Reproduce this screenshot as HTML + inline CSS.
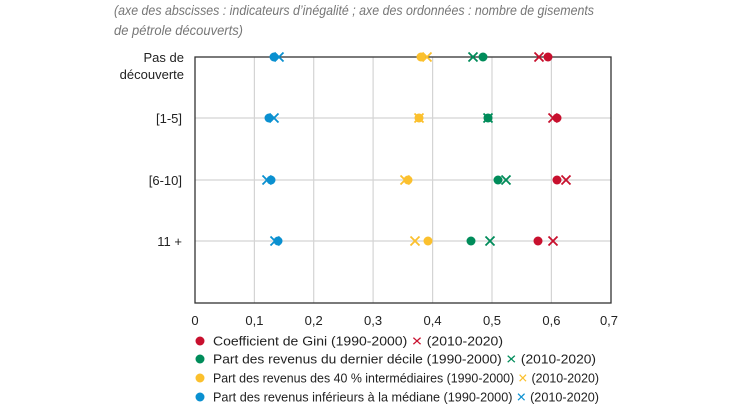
<!DOCTYPE html>
<html><head><meta charset="utf-8"><style>
html,body{margin:0;padding:0;background:#fff;}
svg{display:block;font-family:"Liberation Sans",sans-serif;}
</style></head><body>
<svg width="730" height="410" viewBox="0 0 730 410" xmlns="http://www.w3.org/2000/svg">
<defs>
<g id="xr"><path d="M-4.5,-4.5L4.5,4.5M-4.5,4.5L4.5,-4.5" stroke="#c8102e" stroke-width="1.8" fill="none"/></g>
<g id="xg"><path d="M-4.5,-4.5L4.5,4.5M-4.5,4.5L4.5,-4.5" stroke="#008c5a" stroke-width="1.8" fill="none"/></g>
<g id="xy"><path d="M-4.5,-4.5L4.5,4.5M-4.5,4.5L4.5,-4.5" stroke="#fbc02d" stroke-width="1.8" fill="none"/></g>
<g id="xb"><path d="M-4.5,-4.5L4.5,4.5M-4.5,4.5L4.5,-4.5" stroke="#0a90d0" stroke-width="1.8" fill="none"/></g>
</defs>
<g font-style="italic" fill="#777" font-size="14">
<text x="114" y="15" textLength="480" lengthAdjust="spacingAndGlyphs">(axe des abscisses : indicateurs d’inégalité ; axe des ordonnées : nombre de gisements</text>
<text x="114" y="35" textLength="129" lengthAdjust="spacingAndGlyphs">de pétrole découverts)</text>
</g>
<g stroke="#d4d4d4" stroke-width="1.2">
<line x1="254.4" y1="57" x2="254.4" y2="303"/><line x1="313.7" y1="57" x2="313.7" y2="303"/>
<line x1="373.1" y1="57" x2="373.1" y2="303"/><line x1="432.6" y1="57" x2="432.6" y2="303"/>
<line x1="492" y1="57" x2="492" y2="303"/><line x1="551.4" y1="57" x2="551.4" y2="303"/>
<line x1="195" y1="118" x2="611" y2="118"/><line x1="195" y1="180" x2="611" y2="180"/>
<line x1="195" y1="241" x2="611" y2="241"/>
</g>
<rect x="195" y="57" width="416" height="246" fill="none" stroke="#333" stroke-width="1.3"/>
<g font-size="13" fill="#222" text-anchor="end">
<text x="184" y="62">Pas de</text><text x="184" y="79">découverte</text>
<text x="182" y="123">[1-5]</text><text x="182" y="185">[6-10]</text><text x="182" y="246">11 +</text>
</g>
<g font-size="13" fill="#222" text-anchor="middle">
<text x="195" y="325">0</text><text x="254.4" y="325">0,1</text><text x="313.7" y="325">0,2</text>
<text x="373.1" y="325">0,3</text><text x="432.6" y="325">0,4</text><text x="492" y="325">0,5</text>
<text x="551.4" y="325">0,6</text><text x="609" y="325">0,7</text>
</g>
<circle cx="274" cy="57" r="4.5" fill="#0a90d0"/><use href="#xb" x="279" y="57"/>
<circle cx="421" cy="57" r="4.5" fill="#fbc02d"/><use href="#xy" x="427" y="57"/>
<use href="#xg" x="473" y="57"/><circle cx="483" cy="57" r="4.5" fill="#008c5a"/>
<use href="#xr" x="539" y="57"/><circle cx="548" cy="57" r="4.5" fill="#c8102e"/>
<circle cx="269" cy="118" r="4.5" fill="#0a90d0"/><use href="#xb" x="274" y="118"/>
<circle cx="419" cy="118" r="4.5" fill="#fbc02d"/><use href="#xy" x="419" y="118"/>
<circle cx="488" cy="118" r="4.5" fill="#008c5a"/><use href="#xg" x="488" y="118"/>
<use href="#xr" x="553" y="118"/><circle cx="557" cy="118" r="4.5" fill="#c8102e"/>
<use href="#xb" x="267" y="180"/><circle cx="271" cy="180" r="4.5" fill="#0a90d0"/>
<use href="#xy" x="405" y="180"/><circle cx="408" cy="180" r="4.5" fill="#fbc02d"/>
<circle cx="498" cy="180" r="4.5" fill="#008c5a"/><use href="#xg" x="506" y="180"/>
<circle cx="557" cy="180" r="4.5" fill="#c8102e"/><use href="#xr" x="566" y="180"/>
<use href="#xb" x="275" y="241"/><circle cx="278" cy="241" r="4.5" fill="#0a90d0"/>
<use href="#xy" x="415" y="241"/><circle cx="428" cy="241" r="4.5" fill="#fbc02d"/>
<circle cx="471" cy="241" r="4.5" fill="#008c5a"/><use href="#xg" x="490" y="241"/>
<circle cx="538" cy="241" r="4.5" fill="#c8102e"/><use href="#xr" x="553" y="241"/>
<g font-size="12.5" fill="#222">
<circle cx="200" cy="341" r="4.5" fill="#c8102e"/>
<text x="213" y="345.5" textLength="290" lengthAdjust="spacingAndGlyphs">Coefficient de Gini (1990-2000) <tspan fill="#c8102e">✕</tspan> (2010-2020)</text>
<circle cx="200" cy="359" r="4.5" fill="#008c5a"/>
<text x="213" y="363.5" textLength="383" lengthAdjust="spacingAndGlyphs">Part des revenus du dernier décile (1990-2000) <tspan fill="#008c5a">✕</tspan> (2010-2020)</text>
<circle cx="200" cy="378" r="4.5" fill="#fbc02d"/>
<text x="213" y="382.5" textLength="386" lengthAdjust="spacingAndGlyphs">Part des revenus des 40 % intermédiaires (1990-2000) <tspan fill="#fbc02d">✕</tspan> (2010-2020)</text>
<circle cx="200" cy="397" r="4.5" fill="#0a90d0"/>
<text x="213" y="401.5" textLength="386" lengthAdjust="spacingAndGlyphs">Part des revenus inférieurs à la médiane (1990-2000) <tspan fill="#0a90d0">✕</tspan> (2010-2020)</text>
</g>
</svg>
</body></html>
